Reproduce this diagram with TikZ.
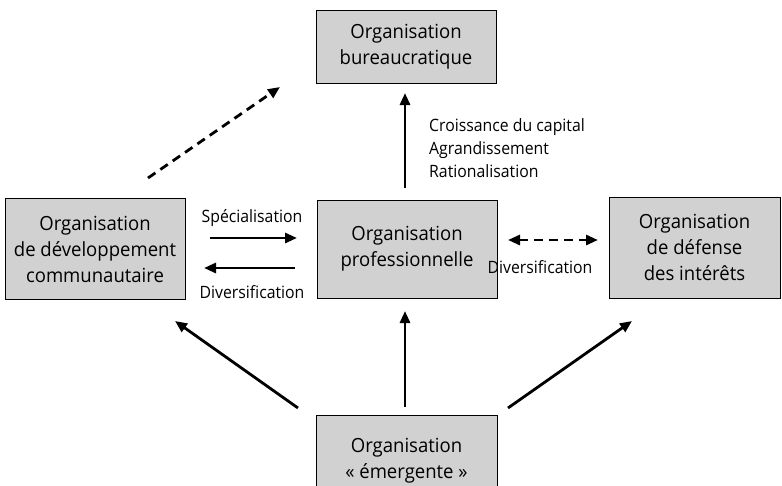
\documentclass[tikz,border=0pt]{standalone}
\usepackage{fontspec}
\setmainfont{Open Sans}
\newfontfamily\lblfont{Open Sans}[FakeStretch=0.93]
\newfontfamily\boxfont{Open Sans}[FakeStretch=0.95]
\usetikzlibrary{arrows.meta}
\begin{document}
\begin{tikzpicture}[x=1pt,y=-1pt,
  box/.style={draw=black,line width=1pt,fill=black!18,align=center,inner sep=0pt,
    font=\boxfont\fontsize{19.5}{26}\selectfont},
  arr/.style={line width=2.8pt,-{Triangle[length=12pt,width=10pt]}},
  darr/.style={arr,dash pattern=on 9pt off 6pt},
  lbl/.style={font=\lblfont\fontsize{17}{23}\selectfont,inner sep=0pt}]
\useasboundingbox (0,0) rectangle (782,485);
\node[box,minimum width=180pt,minimum height=73pt] (bur) at (406,46.5) {Organisation\\bureaucratique};
\node[box,minimum width=180pt,minimum height=101pt] (dev) at (95,249) {Organisation\\de développement\\communautaire};
\node[box,minimum width=180pt,minimum height=98pt] (pro) at (407,249) {Organisation\\professionnelle};
\node[box,minimum width=171pt,minimum height=101pt] (def) at (694.5,247.5) {Organisation\\de défense\\des intérêts};
\node[box,minimum width=181pt,minimum height=90pt,anchor=north] (eme) at (406.5,415) {Organisation\\« émergente »};

\coordinate (a1) at (405,188); \coordinate (a2) at (405,93);
\draw[arr] (a1) -- (a2);
\coordinate (d1) at (148,178); \coordinate (d2) at (280,87);
\draw[darr] (d1) -- (d2);
\coordinate (s1) at (210,238); \coordinate (s2) at (297,238);
\draw[arr] (s1) -- (s2);
\coordinate (v1) at (295,268); \coordinate (v2) at (204,268);
\draw[arr] (v1) -- (v2);
\coordinate (r1) at (508,240); \coordinate (r2) at (598,240);
\draw[line width=2.8pt,{Triangle[length=12pt,width=10pt]}-{Triangle[length=12pt,width=10pt]},dash pattern=on 9pt off 6pt] (r1) -- (r2);
\coordinate (b1) at (298,408); \coordinate (b2) at (175,321);
\draw[arr] (b1) -- (b2);
\coordinate (c1) at (405,407); \coordinate (c2) at (405,311);
\draw[arr] (c1) -- (c2);
\coordinate (e1) at (508,408); \coordinate (e2) at (632,321);
\draw[arr] (e1) -- (e2);

\node[lbl,anchor=west,align=left] (cr) at (429,148) {Croissance du capital\\Agrandissement\\Rationalisation};
\node[lbl] (sp) at (252,218) {Spécialisation};
\node[lbl] (dv) at (252,292) {Diversification};
\node[lbl] (dr) at (540,267) {Diversification};
\end{tikzpicture}
\end{document}
